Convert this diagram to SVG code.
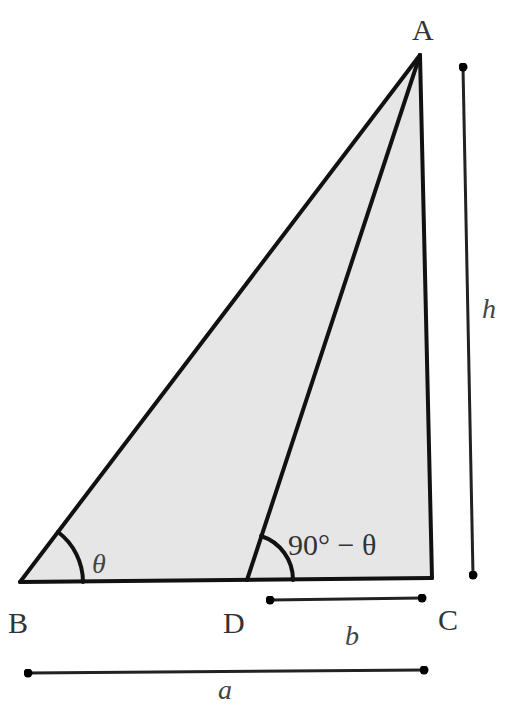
<svg xmlns="http://www.w3.org/2000/svg" width="507" height="710" viewBox="0 0 507 710">
<style>
.edge{stroke:#111;stroke-width:4;fill:none;stroke-linecap:round}
.dim{stroke:#222;stroke-width:3;fill:none}
.lbl{font-family:"Liberation Serif",serif;font-size:30px;fill:#333}
.it{font-family:"Liberation Serif",serif;font-size:28px;font-style:italic;fill:#444}
</style>
<defs>
<marker id="dot" viewBox="0 0 6 6" refX="3" refY="3" markerWidth="3" markerHeight="3"><circle cx="3" cy="3" r="3" fill="#000"/></marker>
</defs>
<rect width="507" height="710" fill="#fff"/>
<g id="triangle">
<polygon points="20,582 420,55 432,578" fill="#e6e6e6"/>
</g>
<g id="connectors">
<line class="edge" x1="20" y1="582" x2="420" y2="55"/>
<line class="edge" x1="420" y1="55" x2="432" y2="578"/>
<line class="edge" x1="20" y1="582" x2="432" y2="578"/>
<line class="edge" x1="420" y1="55" x2="247" y2="580"/>
<path class="edge" d="M83,582 A63,63 0 0 0 58,532" stroke-width="3.5"/>
<path class="edge" d="M293,580 A46,46 0 0 0 261,536" stroke-width="3.5"/>
<line class="dim" x1="463" y1="67" x2="473" y2="575" marker-start="url(#dot)" marker-end="url(#dot)"/>
<line class="dim" x1="270" y1="600" x2="422" y2="598" marker-start="url(#dot)" marker-end="url(#dot)"/>
<line class="dim" x1="28" y1="673" x2="424" y2="670" marker-start="url(#dot)" marker-end="url(#dot)"/>
</g>
<g id="labels">
<text class="lbl" x="412" y="40">A</text>
<text class="lbl" x="8" y="633">B</text>
<text class="lbl" x="223" y="633">D</text>
<text class="lbl" x="438" y="630">C</text>
<text class="it" x="482" y="318">h</text>
<text class="it" x="345" y="645">b</text>
<text class="it" x="218" y="699">a</text>
<text class="it" x="92" y="573">θ</text>
<text class="lbl" x="288" y="555" font-size="28">90° − θ</text>
</g>
</svg>
